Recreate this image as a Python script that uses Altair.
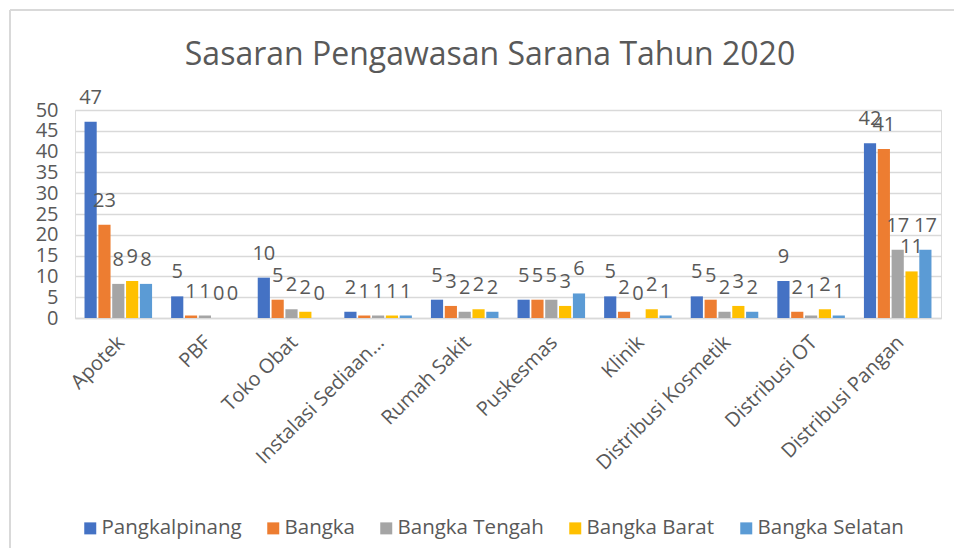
import altair as alt
import pandas as pd

categories = ["Apotek", "PBF", "Toko Obat", "Instalasi Sediaan...", "Rumah Sakit",
              "Puskesmas", "Klinik", "Distribusi Kosmetik", "Distribusi OT", "Distribusi Pangan"]
series = ["Pangkalpinang", "Bangka", "Bangka Tengah", "Bangka Barat", "Bangka Selatan"]
colors = ["#4472C4", "#ED7D31", "#A5A5A5", "#FFC000", "#5B9BD5"]

# bar heights as drawn
pangkalpinang = [47.2, 5.2, 9.7, 1.5, 4.4, 4.4, 5.2, 5.2, 8.9, 42.0]
bangka = [22.4, 0.6, 4.4, 0.6, 2.9, 4.4, 1.5, 4.4, 1.5, 40.6]
bangka_tengah = [8.2, 0.6, 2.1, 0.6, 1.5, 4.4, 0.0, 1.5, 0.6, 16.4]
bangka_barat = [8.9, 0.0, 1.5, 0.6, 2.1, 2.9, 2.1, 2.9, 2.1, 11.2]
bangka_selatan = [8.2, 0.0, 0.0, 0.6, 1.5, 5.9, 0.6, 1.5, 0.6, 16.4]

# data labels as shown
lbl_pangkalpinang = [47, 5, 10, 2, 5, 5, 5, 5, 9, 42]
lbl_bangka = [23, 1, 5, 1, 3, 5, 2, 5, 2, 41]
lbl_bangka_tengah = [8, 1, 2, 1, 2, 5, 0, 2, 1, 17]
lbl_bangka_barat = [9, 0, 2, 1, 2, 3, 2, 3, 2, 11]
lbl_bangka_selatan = [8, 0, 0, 1, 2, 6, 1, 2, 1, 17]

y_ticks = [0, 5, 10, 15, 20, 25, 30, 35, 40, 45, 50]

values = [pangkalpinang, bangka, bangka_tengah, bangka_barat, bangka_selatan]
labels = [lbl_pangkalpinang, lbl_bangka, lbl_bangka_tengah, lbl_bangka_barat, lbl_bangka_selatan]

rows = []
for s, vals, lbs in zip(series, values, labels):
    for c, v, l in zip(categories, vals, lbs):
        rows.append({"kategori": c, "wilayah": s, "nilai": v, "label": str(l)})
df = pd.DataFrame(rows)

FONT = "Open Sans"
TXT = "#595959"
GRID = "#d9d9d9"

x_enc = alt.X("kategori:N", sort=categories, title=None,
              scale=alt.Scale(paddingInner=0.22, paddingOuter=0.11),
              axis=alt.Axis(labelAngle=-45, labelAlign="right", labelBaseline="middle",
                            labelFontSize=20, labelFont=FONT, labelColor=TXT,
                            labelPadding=21, labelOffset=3, ticks=False, domain=True,
                            domainColor=GRID, domainWidth=1.5, labelLimit=400))
xo_enc = alt.XOffset("wilayah:N", sort=series, scale=alt.Scale(paddingInner=0.12, paddingOuter=0))
y_enc = alt.Y("nilai:Q", title=None,
              scale=alt.Scale(domain=[0, 50], nice=False),
              axis=alt.Axis(values=y_ticks, labelFontSize=20, labelFont=FONT,
                            labelColor=TXT, labelPadding=17, ticks=False, domain=False,
                            labelOverlap=False, gridColor=GRID, gridWidth=1.5))

bars = alt.Chart(df).mark_bar().encode(
    x=x_enc, xOffset=xo_enc, y=y_enc,
    color=alt.Color("wilayah:N", sort=series,
                    scale=alt.Scale(domain=series, range=colors),
                    legend=alt.Legend(title=None, orient="none", direction="horizontal",
                                      legendX=5, legendY=408, symbolType="square",
                                      symbolSize=144, symbolStrokeWidth=0,
                                      labelFontSize=20.5, labelFont=FONT, labelColor=TXT,
                                      columnPadding=21, labelOffset=1, padding=0,
                                      labelLimit=300)),
)

text = alt.Chart(df).mark_text(fontSize=20, font=FONT, color=TXT, baseline="middle", dy=-24).encode(
    x=x_enc, xOffset=xo_enc, y=y_enc,
    text="label:N",
)

frame_left = alt.Chart(df).mark_rule(color=GRID, strokeWidth=1.5).encode(
    x=alt.value(-65), y=alt.value(-100), y2=alt.value(480))
frame_top = alt.Chart(df).mark_rule(color=GRID, strokeWidth=1.5).encode(
    x=alt.value(-65), x2=alt.value(920), y=alt.value(-100))

chart = alt.layer(frame_left, frame_top, bars, text).properties(
    width=866, height=208,
    autosize=alt.AutoSizeParams(type="none"),
    padding={"left": 67, "top": 102, "right": 13, "bottom": 230},
    title=alt.TitleParams("Sasaran Pengawasan Sarana Tahun 2020", fontSize=32, font=FONT,
                          color=TXT, fontWeight="normal", anchor="middle", dx=-18,
                          offset=0, dy=63),
).configure_view(stroke=None).configure(background="white")

chart.save("out.html", embed_options={"renderer": "svg", "actions": False})
